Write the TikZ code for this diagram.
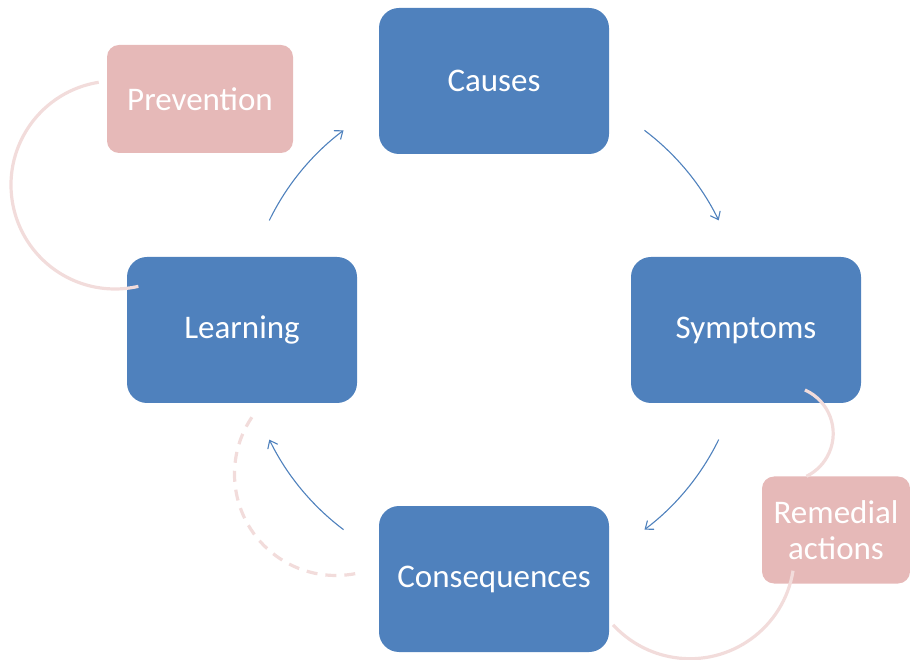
\documentclass[tikz,border=0pt]{standalone}
\usepackage{fontspec}
\setmainfont{Carlito}
\usetikzlibrary{arrows.meta}
\definecolor{boxblue}{HTML}{4F81BD}
\definecolor{boxpink}{HTML}{E6B9B8}
\definecolor{linkpink}{HTML}{F2DCDB}
\definecolor{arrowblue}{HTML}{4F81BD}
\begin{document}
\begin{tikzpicture}[x=1pt,y=1pt,
  bluebox/.style={fill=boxblue,draw=none,rounded corners=20pt,minimum width=230pt,minimum height=146pt,text=white,font=\fontsize{33}{36}\selectfont,inner sep=0pt},
  pinkbox/.style={fill=boxpink,draw=none,rounded corners=12pt,text=white,font=\fontsize{33}{36}\selectfont,inner sep=0pt,align=center},
  flow/.style={draw=arrowblue,line width=1.1pt,-{Straight Barb[length=7pt,width=11pt]}},
  pinklink/.style={draw=linkpink,line width=3.2pt},
  pinkdash/.style={draw=linkpink,line width=3.2pt,dash pattern=on 11pt off 8pt}]
\useasboundingbox (0,0) rectangle (910,659);
\coordinate (cyc) at (494,329);
\node[bluebox] (causes) at (494,578) {Causes};
\node[bluebox] (symptoms) at (746,329) {Symptoms};
\node[bluebox] (conseq) at (494,80) {Consequences};
\node[bluebox] (learning) at (242,329) {Learning};
\node[pinkbox,minimum width=186pt,minimum height=108pt] (prevention) at (200,560) {Prevention};
\node[pinkbox,minimum width=148pt,minimum height=107pt] (remedial) at (836,129) {Remedial\\actions};
% flow arrows
\draw[flow] (cyc) ++(53:250) arc (53:26:250);
\draw[flow] (cyc) ++(-26:250) arc (-26:-53:250);
\draw[flow] (cyc) ++(-127:250) arc (-127:-154:250);
\draw[flow] (cyc) ++(154:250) arc (154:127:250);
% pink links
\coordinate (pc) at (115,474);
\draw[pinklink] (pc) ++(99:104) arc (99:283:104);
\coordinate (sc) at (785.6,225.5);
\draw[pinklink] (sc) ++(66:47.6) arc (66:-64:47.6);
\coordinate (rc) at (690,104.6);
\draw[pinklink] (rc) ++(-9:104.3) arc (-9:-137.5:104.3);
\coordinate (dc) at (336,185);
\draw[pinkdash] (dc) ++(146:101.5) arc (146:285:101.5);
\end{tikzpicture}
\end{document}
